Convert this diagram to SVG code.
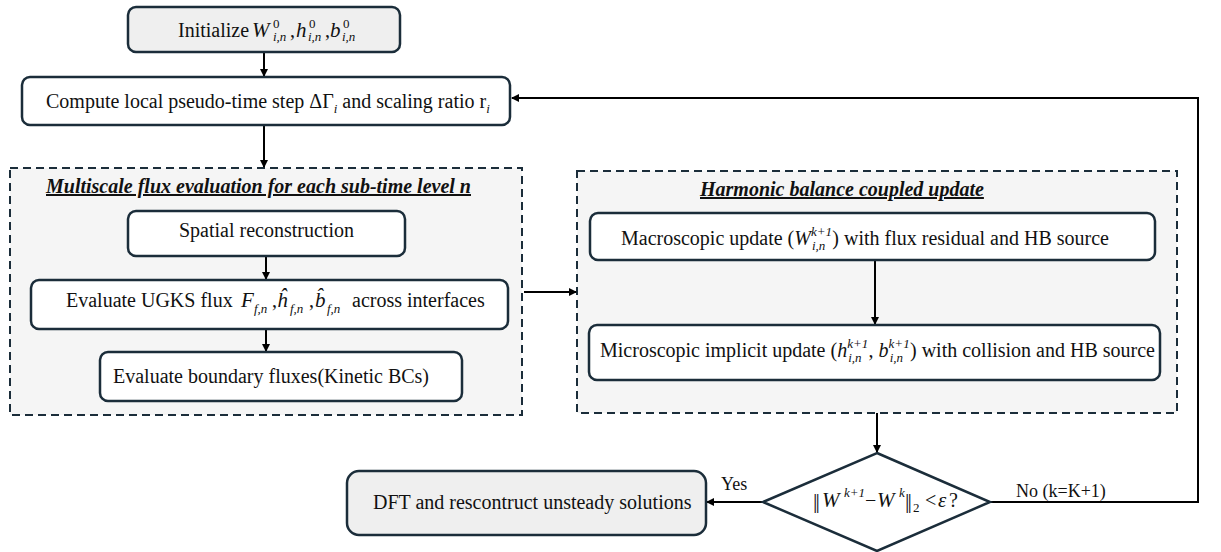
<svg xmlns="http://www.w3.org/2000/svg" width="1221" height="552" viewBox="0 0 1221 552">
<style>
.box{fill:#ffffff;stroke:#1b2d3a;stroke-width:2.5}
.gbox{fill:#efefef;stroke:#1b2d3a;stroke-width:2.5}
.dash{fill:#f5f5f5;stroke:#1b2d3a;stroke-width:2;stroke-dasharray:8 5}
.t{font-family:"Liberation Serif","Times New Roman",serif;font-size:20px;fill:#111}
.m{font-size:21px;font-style:italic}
.s{font-size:13px}
.i{font-style:italic}
.bar{font-size:22px;letter-spacing:-2px}
.title{font-family:"Liberation Serif","Times New Roman",serif;font-size:20px;font-weight:bold;font-style:italic;text-decoration:underline;fill:#111}
.c{fill:none;stroke:#000;stroke-width:2}
</style>
<defs>
<marker id="ah" markerWidth="8" markerHeight="8" refX="7" refY="4" orient="auto" markerUnits="userSpaceOnUse">
<path d="M0,0 L8,4 L0,8 z" fill="#000"/>
</marker>
</defs>

<g id="group-multiscale">
<rect class="dash" x="10" y="168" width="512" height="247"/>
<text class="title" x="46" y="193">Multiscale flux evaluation for each sub-time level n</text>
</g>
<g id="group-hb">
<rect class="dash" x="577" y="171" width="600" height="242"/>
<text class="title" x="700" y="196">Harmonic balance coupled update</text>
</g>

<g id="connectors">
<line class="c" x1="264" y1="52" x2="264" y2="76" marker-end="url(#ah)"/>
<line class="c" x1="264" y1="125" x2="264" y2="167" marker-end="url(#ah)"/>
<line class="c" x1="266" y1="256" x2="266" y2="279" marker-end="url(#ah)"/>
<line class="c" x1="266" y1="329" x2="266" y2="351" marker-end="url(#ah)"/>
<line class="c" x1="524" y1="292" x2="576" y2="292" marker-end="url(#ah)"/>
<line class="c" x1="875" y1="260" x2="875" y2="324" marker-end="url(#ah)"/>
<line class="c" x1="877" y1="413" x2="877" y2="452" marker-end="url(#ah)"/>
<line class="c" x1="763" y1="502" x2="707" y2="502" marker-end="url(#ah)"/>
<polyline class="c" points="990,502 1198,502 1198,98 512,98" marker-end="url(#ah)"/>
<text class="t" x="721" y="490" style="font-size:18px">Yes</text>
<text class="t" x="1016" y="497" style="font-size:18px">No (k=K+1)</text>
</g>

<g id="node-init">
<rect class="gbox" x="128" y="7" width="272" height="45" rx="8"/>
<text class="t" x="178" y="37">Initialize<tspan class="m" x="252">W</tspan><tspan class="s" x="273" y="28">0</tspan><tspan class="s i" x="273" y="41">i,n</tspan><tspan x="290" y="37">,</tspan><tspan class="m" x="296">h</tspan><tspan class="s" x="309" y="28">0</tspan><tspan class="s i" x="308" y="41">i,n</tspan><tspan x="325" y="37">,</tspan><tspan class="m" x="330">b</tspan><tspan class="s" x="343" y="28">0</tspan><tspan class="s i" x="342" y="41">i,n</tspan></text>
</g>

<g id="node-compute">
<rect class="box" x="22" y="77" width="488" height="48" rx="8"/>
<text class="t" x="46" y="108">Compute local pseudo-time step ΔΓ<tspan class="s i" dy="5">i</tspan><tspan dy="-5"> and scaling ratio r</tspan><tspan class="s i" dy="5">i</tspan></text>
</g>

<g id="node-spatial">
<rect class="box" x="128" y="211" width="277" height="45" rx="8"/>
<text class="t" x="179" y="237">Spatial reconstruction</text>
</g>

<g id="node-ugks">
<rect class="box" x="31" y="280" width="477" height="49" rx="8"/>
<text class="t" x="66" y="307">Evaluate UGKS flux<tspan class="m" x="241">F</tspan><tspan class="s i" x="254" y="313">f,n</tspan><tspan x="272" y="307">,</tspan><tspan class="m" x="277">ĥ</tspan><tspan class="s i" x="290" y="313">f,n</tspan><tspan x="309" y="307">,</tspan><tspan class="m" x="315">b̂</tspan><tspan class="s i" x="327" y="313">f,n</tspan><tspan x="352" y="307">across interfaces</tspan></text>
</g>

<g id="node-boundary">
<rect class="box" x="100" y="352" width="362" height="49" rx="8"/>
<text class="t" x="113" y="383">Evaluate boundary fluxes(Kinetic BCs)</text>
</g>

<g id="node-macro">
<rect class="box" x="590" y="213" width="565" height="47" rx="8"/>
<text class="t" x="621" y="245">Macroscopic update (<tspan class="i">W</tspan><tspan class="s i" dy="-9">k+1</tspan><tspan class="s i" dx="-20" dy="14">i,n</tspan><tspan dx="7" dy="-5">) with flux residual and HB source</tspan></text>
</g>

<g id="node-micro">
<rect class="box" x="589" y="325" width="571" height="55" rx="8"/>
<text class="t" x="600" y="357">Microscopic implicit update (<tspan class="i">h</tspan><tspan class="s i" dy="-9">k+1</tspan><tspan class="s i" dx="-20" dy="14">i,n</tspan><tspan dx="7" dy="-5">, </tspan><tspan class="i">b</tspan><tspan class="s i" dy="-9">k+1</tspan><tspan class="s i" dx="-20" dy="14">i,n</tspan><tspan dx="7" dy="-5">) with collision and HB source</tspan></text>
</g>

<g id="node-dft">
<rect class="gbox" x="347" y="471" width="359" height="64" rx="12"/>
<text class="t" x="373" y="509">DFT and rescontruct unsteady solutions</text>
</g>

<g id="node-decision">
<polygon points="877,453 990,502 877,551 763,502" fill="#ffffff" stroke="#1b2d3a" stroke-width="2.5"/>
<text class="t" x="813" y="508"><tspan class="bar">||</tspan><tspan class="m" x="822" y="507">W</tspan><tspan class="s i" x="844" y="497">k+1</tspan><tspan x="865" y="507">−</tspan><tspan class="m" x="877">W</tspan><tspan class="s i" x="899" y="497">k</tspan><tspan class="bar" x="905" y="508">||</tspan><tspan class="s" x="913" y="512">2</tspan><tspan x="925" y="507">&lt;</tspan><tspan class="m" x="938">ε</tspan><tspan x="949">?</tspan></text>
</g>
</svg>
